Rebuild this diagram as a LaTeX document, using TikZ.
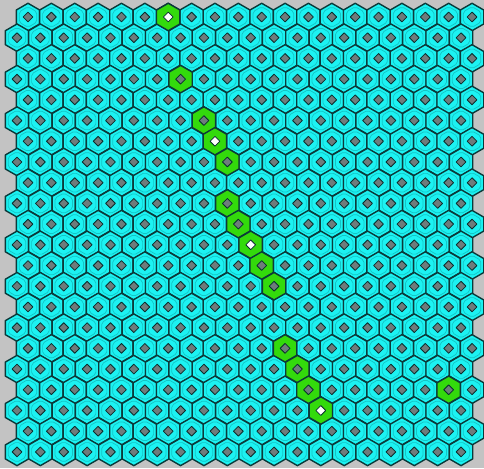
\documentclass[tikz,border=0pt]{standalone}
\definecolor{bgc}{HTML}{C3C3C3}
\definecolor{cellc}{HTML}{1CF2F2}
\definecolor{ringc}{HTML}{14C4C4}
\definecolor{edgec}{HTML}{0B3A3A}
\definecolor{diac}{HTML}{6E7C7C}
\definecolor{greenc}{HTML}{33DA0C}
\tikzset{
  hexshape/.style={line width=1.4pt,line join=round,draw=edgec},
  ringshape/.style={line width=0.7pt,line join=round,rounded corners=2pt},
  diashape/.style={line width=0.8pt,line join=round,draw=edgec!80!black},
  pics/hexcell/.style args={#1/#2/#3}{code={
    \path[hexshape,fill=#1] (0,-13.73) -- (11.685,-6.98) -- (11.685,6.98) -- (0,13.73) -- (-11.685,6.98) -- (-11.685,-6.98) -- cycle;
    \path[ringshape,draw=#3] (0,-10.3) -- (8.76,-5.24) -- (8.76,5.24) -- (0,10.3) -- (-8.76,5.24) -- (-8.76,-5.24) -- cycle;
    \path[diashape,fill=#2] (0,-4.9) -- (4.9,0) -- (0,4.9) -- (-4.9,0) -- cycle;
  }}
}
\begin{document}
\begin{tikzpicture}[x=1pt,y=-1pt]
\useasboundingbox (0,0) rectangle (484,468);
\fill[bgc] (0,0) rectangle (484,468);
\clip (0,0) rectangle (484,468);
\foreach \r in {0,...,21}{
  \foreach \c in {0,...,19}{
    \pgfmathsetmacro\cx{28-11*mod(\r,2)+23.37*\c}
    \pgfmathsetmacro\cy{17+20.71*\r}
    \pic at (\cx,\cy) {hexcell={cellc/diac/ringc}};
  }
}
\foreach \r/\c/\w in {0/6/1,3/7/0,5/8/0,6/8/1,7/9/0,9/9/0,10/9/0,11/10/1,12/10/0,13/11/0,16/11/0,17/12/0,18/12/0,19/13/1,18/18/0}{
  \pgfmathsetmacro\cx{28-11*mod(\r,2)+23.37*\c}
  \pgfmathsetmacro\cy{17+20.71*\r}
  \ifnum\w=1
    \pic at (\cx,\cy) {hexcell={greenc/white/greenc}};
  \else
    \pic at (\cx,\cy) {hexcell={greenc/diac/greenc}};
  \fi
}
\end{tikzpicture}
\end{document}
